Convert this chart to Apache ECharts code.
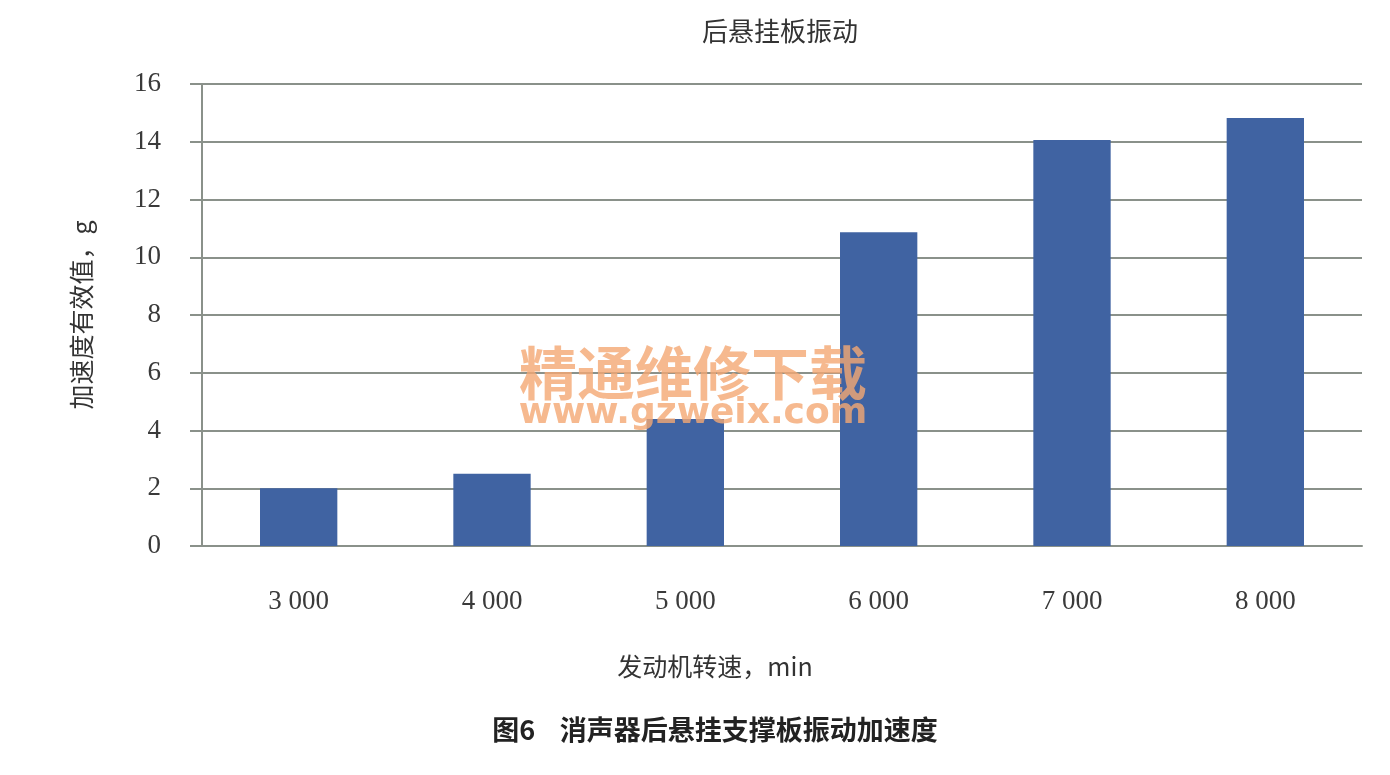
<!DOCTYPE html>
<html><head><meta charset="utf-8">
<script src="https://cdn.jsdelivr.net/npm/echarts@6/dist/echarts.min.js"></script>
<style>html,body{margin:0;padding:0;background:#fff}#c{width:1390px;height:775px}</style>
</head><body><div id="c"></div>
<script>
const categories = ['3 000','4 000','5 000','6 000','7 000','8 000'];
const values = [2.0, 2.5, 4.4, 10.87, 14.06, 14.82];
const yTicks = [0, 2, 4, 6, 8, 10, 12, 14, 16];
const titleText = '后悬挂板振动';
const xName = '发动机转速，min';
const yName = '加速度有效值，g';
const caption = '图6    消声器后悬挂支撑板振动加速度';
const wm1 = '精通维修下载';
const wm2 = 'www.gzweix.com';

const chart = echarts.init(document.getElementById('c'));
const lineCol = '#8a918a';
chart.setOption({
  backgroundColor: '#fff',
  animation: false,
  title: {
    text: titleText, left: 775, top: 13, textAlign: 'center',
    textStyle: {fontFamily: 'Noto Sans CJK SC', fontWeight: 'normal', fontSize: 26, color: '#333'}
  },
  grid: {left: 202, right: 28, top: 84, bottom: 229},
  xAxis: {
    type: 'category', data: categories,
    axisLine: {show: true, lineStyle: {color: lineCol, width: 2}},
    axisTick: {show: false},
    axisLabel: {margin: 42, fontFamily: 'Liberation Serif', fontSize: 27, color: '#3a3a3a'},
    name: xName, nameLocation: 'middle', nameGap: 108,
    nameTextStyle: {fontFamily: 'Noto Sans CJK SC', fontSize: 25, color: '#333', padding: [0, 134, 0, 0]}
  },
  yAxis: {
    type: 'value', min: yTicks[0], max: yTicks[yTicks.length-1], interval: 2,
    axisLine: {show: true, lineStyle: {color: lineCol, width: 2}},
    axisTick: {show: true, length: 12, lineStyle: {color: lineCol, width: 2}},
    splitLine: {show: true, lineStyle: {color: lineCol, width: 2}},
    axisLabel: {margin: 41, fontFamily: 'Liberation Serif', fontSize: 27, color: '#3a3a3a'},
    name: yName, nameLocation: 'middle', nameGap: 108, nameRotate: 90,
    nameTextStyle: {fontFamily: 'Noto Sans CJK SC', fontSize: 25, color: '#333'}
  },
  series: [{
    type: 'bar', data: values, barWidth: '40%',
    itemStyle: {color: '#4063a2'}
  }],
  graphic: [
    {type: 'text', x: 715, y: 730, style: {text: caption, font: 'bold 27px "Noto Sans CJK SC"', fill: '#222', align: 'center', verticalAlign: 'middle'}},
    {type: 'text', x: 693, y: 373, z: 100, style: {text: wm1, font: 'bold 58px "Noto Sans CJK SC"', fill: 'rgba(244,168,115,0.8)', align: 'center', verticalAlign: 'middle'}},
    {type: 'text', x: 693, y: 414, z: 100, style: {text: wm2, font: 'bold 36px "DejaVu Sans"', fill: 'rgba(244,168,115,0.8)', align: 'center', verticalAlign: 'middle'}}
  ]
});
</script></body></html>
